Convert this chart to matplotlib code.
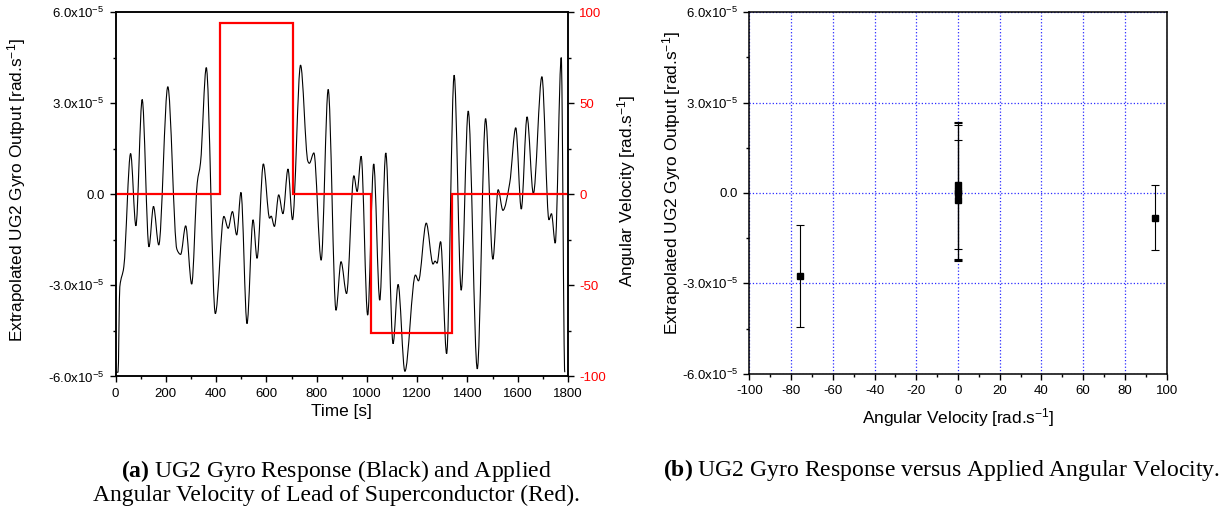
import numpy as np
import matplotlib
matplotlib.use("Agg")
import matplotlib.pyplot as plt
from matplotlib.path import Path
from matplotlib.patches import PathPatch
from matplotlib.ticker import MultipleLocator

plt.rcParams['font.family'] = 'Liberation Sans'
plt.rcParams['axes.unicode_minus'] = False
plt.rcParams['mathtext.fontset'] = 'custom'
plt.rcParams['mathtext.rm'] = 'Liberation Sans'
plt.rcParams['mathtext.it'] = 'Liberation Sans:italic'
plt.rcParams['mathtext.bf'] = 'Liberation Serif:bold'

# UG2 gyro trace: turning points of the recorded output, in 1e-5 rad/s
time_s = [0, 10, 17, 33, 60, 81, 106, 133, 151, 172, 208, 244, 259, 279, 303,
          325, 338, 361, 397, 431, 448, 465, 482, 499, 523, 547, 563, 588, 613,
          619, 632, 649, 666, 686, 704, 736, 765, 771, 789, 818, 846, 877, 897,
          919, 948, 961, 977, 1003, 1027, 1051, 1075, 1104, 1124, 1151, 1193,
          1205, 1236, 1263, 1271, 1279, 1293, 1317, 1347, 1375, 1403, 1439,
          1472, 1501, 1522, 1541, 1568, 1592, 1614, 1637, 1662, 1696, 1724,
          1734, 1749, 1773, 1787]
gyro_e5 = [-5.86, -5.86, -3.05, -2.39, 1.34, -1.04, 3.12, -1.73, -0.40, -1.67,
           3.54, -1.81, -1.98, -1.04, -2.96, 0.37, 1.03, 4.17, -3.93, -0.73,
           -1.12, -0.57, -1.34, 0.06, -4.26, -0.84, -2.11, 1.00, -0.79, -0.72,
           -1.06, -0.02, -0.64, 0.83, -0.84, 4.25, 1.09, 1.02, 1.36, -2.17,
           3.45, -3.82, -2.22, -3.27, 0.61, 0.09, 1.25, -3.98, 1.00, -3.49,
           1.36, -4.92, -2.97, -5.83, -2.66, -2.85, -0.95, -2.30, -2.20, -2.27,
           -1.56, -5.25, 3.92, -3.16, 2.74, -5.75, 2.49, -2.14, 0.15, -0.53,
           0.37, 2.19, -0.49, 2.55, 0.02, 3.87, -0.84, -0.64, -1.61, 4.50,
           -5.86]

# applied angular velocity of the superconductor lead
step_edges = [0, 414, 706, 1016, 1337, 1800]
step_vel = [0, 94.1, 0, -75.9, 0]

# extrapolated gyro output against applied angular velocity
ang_vel = [-75.5, 0, 0, 0, 0, 94.3]
out_e5 = [-2.76, 0.25, 0.05, 0.0, -0.22, -0.82]
err_e5 = [1.69, 2.10, 2.28, 2.27, 1.97, 1.08]

y_ticks = [-6e-5, -3e-5, 0, 3e-5, 6e-5]
y_labels = [r'-6.0x10$^{-5}$', r'-3.0x10$^{-5}$', '0.0',
            r'3.0x10$^{-5}$', r'6.0x10$^{-5}$']

LABEL_SIZE = 12.4
TICK_SIZE = 9.5


def smooth_path(x, y):
    # cubic Bezier through the points, flat at turning points
    x = np.asarray(x, float)
    y = np.asarray(y, float)
    d = np.diff(y) / np.diff(x)
    m = np.zeros_like(y)
    for i in range(1, len(y) - 1):
        if d[i - 1] * d[i] > 0:
            m[i] = 2 / (1 / d[i - 1] + 1 / d[i])
    verts = [(x[0], y[0])]
    for i in range(len(x) - 1):
        h = (x[i + 1] - x[i]) / 3
        verts += [(x[i] + h, y[i] + m[i] * h),
                  (x[i + 1] - h, y[i + 1] - m[i + 1] * h),
                  (x[i + 1], y[i + 1])]
    codes = [Path.MOVETO] + [Path.CURVE4] * (len(verts) - 1)
    return Path(verts, codes)


def style_axes(ax):
    for s in ax.spines.values():
        s.set_linewidth(1.1)
    ax.tick_params(which='both', direction='out', width=1.0,
                   labelsize=TICK_SIZE, top=False, right=False)
    ax.tick_params(which='major', length=4.5)
    ax.tick_params(which='minor', length=2.5)


fig = plt.figure(figsize=(12.29, 5.18), dpi=100)

# (a) time series
ax = fig.add_axes([0.094, 0.2732, 0.3682, 0.7036])
gyro = np.array(gyro_e5) * 1e-5
ax.add_patch(PathPatch(smooth_path(time_s, gyro), fill=False,
                       edgecolor='black', linewidth=0.8))
ax.set_xlim(0, 1800)
ax.set_ylim(-6e-5, 6e-5)
ax.set_yticks(y_ticks, y_labels)
ax.xaxis.set_major_locator(MultipleLocator(200))
ax.xaxis.set_minor_locator(MultipleLocator(100))
ax.yaxis.set_minor_locator(MultipleLocator(1.5e-5))
style_axes(ax)
ax.set_xlabel('Time [s]', fontsize=LABEL_SIZE, labelpad=3)
ax.set_ylabel(r'Extrapolated UG2 Gyro Output [rad.s$^{-1}$]',
              fontsize=LABEL_SIZE)
ax.yaxis.set_label_coords(-0.193, 0.511)

ax2 = ax.twinx()
ax2.stairs(step_vel, step_edges, baseline=None, color='#ff0000', linewidth=1.6)
ax2.set_ylim(-100, 100)
ax2.set_yticks([-100, -50, 0, 50, 100])
ax2.yaxis.set_minor_locator(MultipleLocator(25))
for s in ax2.spines.values():
    s.set_linewidth(1.1)
ax2.tick_params(which='both', direction='out', width=1.0, labelsize=TICK_SIZE,
                colors='black')
ax2.tick_params(axis='y', labelcolor='#ff0000')
ax2.tick_params(which='major', length=4.5)
ax2.tick_params(which='minor', length=2.5)
ax2.set_ylabel(r'Angular Velocity [rad.s$^{-1}$]', fontsize=LABEL_SIZE)
ax2.yaxis.set_label_coords(1.104, 0.51)

# (b) response versus applied angular velocity
bx = fig.add_axes([0.6097, 0.2786, 0.3396, 0.6977])
bx.errorbar(ang_vel, np.array(out_e5) * 1e-5, yerr=np.array(err_e5) * 1e-5,
            fmt='s', color='black', markersize=5, elinewidth=0.8,
            capsize=3, capthick=0.8, zorder=3)
bx.set_xlim(-100, 100)
bx.set_ylim(-6e-5, 6e-5)
bx.set_yticks(y_ticks, y_labels)
bx.xaxis.set_major_locator(MultipleLocator(20))
bx.xaxis.set_minor_locator(MultipleLocator(10))
bx.yaxis.set_minor_locator(MultipleLocator(1.5e-5))
bx.grid(True, which='major', color='#2b2bff', linestyle=':', linewidth=0.9)
style_axes(bx)
bx.set_xlabel(r'Angular Velocity [rad.s$^{-1}$]', fontsize=LABEL_SIZE,
              labelpad=7)
bx.set_ylabel(r'Extrapolated UG2 Gyro Output [rad.s$^{-1}$]',
              fontsize=LABEL_SIZE)
bx.yaxis.set_label_coords(-0.159, 0.526)

fig.text(0.2734, 1 - 482 / 518,
         r'$\mathbf{(a)}$ UG2 Gyro Response (Black) and Applied' + '\n'
         + 'Angular Velocity of Lead of Superconductor (Red).',
         ha='center', va='center', multialignment='center',
         family='Liberation Serif', fontsize=17, linespacing=1.0)
fig.text(0.7657, 1 - 470 / 518,
         r'$\mathbf{(b)}$ UG2 Gyro Response versus Applied Angular Velocity.',
         ha='center', va='center', family='Liberation Serif', fontsize=17)

fig.savefig('out.png', dpi=100)
